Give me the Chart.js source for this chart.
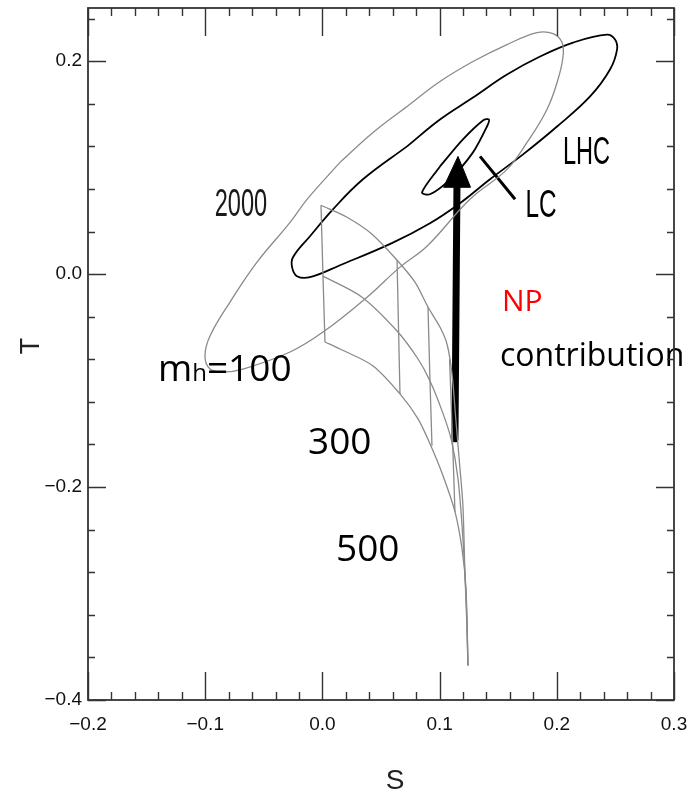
<!DOCTYPE html>
<html><head><meta charset="utf-8">
<script src="https://cdn.jsdelivr.net/npm/chart.js@4/dist/chart.umd.min.js"></script>
<style>html,body{margin:0;padding:0;background:#fff;}canvas{display:block;}</style>
</head><body>
<canvas id="c" width="689" height="793"></canvas>
<script>
// ---- tick values / labels ----
const xTickValues = [-0.2, -0.1, 0.0, 0.1, 0.2, 0.3];
const xTickLabels = ['\u22120.2', '\u22120.1', '0.0', '0.1', '0.2', '0.3'];
const yTickValues = [-0.4, -0.2, 0.0, 0.2];
const yTickLabels = ['\u22120.4', '\u22120.2', '0.0', '0.2'];
const xTitle = 'S';
const yTitle = 'T';

// ---- mh = 2000 ellipse (gray) ----
const ell2000S = [0.0150,0.0432,0.0722,0.1003,0.1285,0.1575,0.1831,0.1968,0.2045,0.2053,0.2010,0.1916,0.1746,0.1575,0.1259,0.0892,0.0662,0.0381,0.0005,-0.0276,-0.0677,-0.0848,-0.0959,-0.1002,-0.0959,-0.0788,-0.0558,-0.0276,-0.0131,0.0150];
const ell2000T = [0.1050,0.1331,0.1575,0.1809,0.1997,0.2156,0.2269,0.2259,0.2175,0.2044,0.1828,0.1547,0.1237,0.0984,0.0703,0.0262,0.0066,-0.0216,-0.0544,-0.0731,-0.0891,-0.0919,-0.0891,-0.0769,-0.0581,-0.0262,0.0112,0.0487,0.0703,0.1050];

// ---- LHC ellipse (black) ----
const lhcS = [0.0722,0.1003,0.1285,0.1575,0.1857,0.2139,0.2429,0.2497,0.2514,0.2454,0.2284,0.2002,0.1712,0.1430,0.1174,0.0918,0.0593,0.0150,-0.0106,-0.0217,-0.0259,-0.0251,-0.0106,0.0090,0.0346,0.0722];
const lhcT = [0.1200,0.1453,0.1659,0.1875,0.2044,0.2175,0.2250,0.2203,0.2109,0.1922,0.1669,0.1387,0.1125,0.0891,0.0666,0.0478,0.0291,0.0084,-0.0028,-0.0019,0.0066,0.0159,0.0356,0.0609,0.0891,0.1200];

// ---- LC ellipse (black) ----
const lcS = [0.1003,0.1199,0.1370,0.1421,0.1404,0.1285,0.1089,0.0918,0.0850,0.1003];
const lcT = [0.1012,0.1266,0.1444,0.1453,0.1387,0.1144,0.0891,0.0750,0.0769,0.1012];

// ---- SM grid arcs (gray) ----
const arcTopS = [-0.0012,0.0210,0.0423,0.0637,0.0790,0.0901,0.1003,0.1063,0.1106,0.1140,0.1174,0.1199,0.1216,0.1233,0.1242];
const arcTopT = [0.0647,0.0534,0.0375,0.0131,-0.0075,-0.0309,-0.0497,-0.0656,-0.0937,-0.1387,-0.1828,-0.2175,-0.2794,-0.3234,-0.3675];
const arcMidS = [0.0005,0.0338,0.0637,0.0816,0.0918,0.1021,0.1098,0.1157,0.1199,0.1225,0.1242];
const arcMidT = [-0.0019,-0.0216,-0.0534,-0.0797,-0.1003,-0.1284,-0.1547,-0.1922,-0.2484,-0.3047,-0.3675];
const arcBotS = [0.0022,0.0150,0.0432,0.0662,0.0816,0.0918,0.1029,0.1131,0.1191,0.1225,0.1242];
const arcBotT = [-0.0637,-0.0703,-0.0862,-0.1125,-0.1359,-0.1594,-0.1894,-0.2231,-0.2578,-0.2953,-0.3675];
// connecting lines
const v1S = [-0.0012,0.0005,0.0022];  const v1T = [0.0647,-0.0019,-0.0637];
const v2S = [0.0637,0.0650,0.0662];   const v2T = [0.0131,-0.0534,-0.1125];
const v3S = [0.0901,0.0918,0.0935];   const v3T = [-0.0309,-0.1003,-0.1612];
const v4S = [0.1085,0.1110,0.1131];   const v4T = [-0.0800,-0.1547,-0.2231];

// ---- NP arrow and LC pointer ----
const arrowShaftS = [0.1131, 0.1148];  const arrowShaftT = [-0.1547, 0.0816];
const arrowHeadS = [0.1034, 0.1157, 0.1264, 0.1034]; const arrowHeadT = [0.0816, 0.1106, 0.0816, 0.0816];
const lcPointerS = [0.1345, 0.1644];   const lcPointerT = [0.1106, 0.0703];

// ---- annotations (text) ----
const notes = [
  {parts:[{t:'2000', f:'38px "Liberation Sans"'}], s:-0.0695, v:0.0544, align:'center', sx:0.62, color:'#1a1a1a'},
  {parts:[{t:'LHC', f:'38px "Liberation Sans"'}], s:0.2253, v:0.1031, align:'center', sx:0.62, color:'#000'},
  {parts:[{t:'LC', f:'38px "Liberation Sans"'}], s:0.1865, v:0.0534, align:'center', sx:0.64, color:'#000'},
  {parts:[{t:'NP', f:'30px "Open Sans"'}], s:0.1532, v:-0.0347, align:'left', sx:1, color:'#ff0000'},
  {parts:[{t:'contribution', f:'32px "Open Sans"'}], s:0.1515, v:-0.0862, align:'left', sx:1, color:'#000'},
  {parts:[{t:'m', f:'37px "Open Sans"'},{t:'h', f:'24px "Open Sans"'},{t:'=100', f:'37px "Open Sans"'}], s:-0.1403, v:-0.1003, align:'left', sx:1, color:'#000'},
  {parts:[{t:'300', f:'37px "Open Sans"'}], s:-0.0123, v:-0.1687, align:'left', sx:1, color:'#000'},
  {parts:[{t:'500', f:'37px "Open Sans"'}], s:0.0116, v:-0.2691, align:'left', sx:1, color:'#000'}
];

const pts = (S, T) => S.map((s, i) => ({x: s, y: T[i]}));
const gray = {borderColor:'#8a8a8a', borderWidth:1.3, pointRadius:0, showLine:true, fill:false};
const blk = {borderColor:'#000', borderWidth:1.8, pointRadius:0, showLine:true, fill:false};

const datasets = [
  Object.assign({label:'mh=2000', data:pts(ell2000S, ell2000T), tension:0.4}, gray),
  Object.assign({label:'arc top', data:pts(arcTopS, arcTopT), tension:0.3}, gray),
  Object.assign({label:'arc mid', data:pts(arcMidS, arcMidT), tension:0.3}, gray),
  Object.assign({label:'arc bot', data:pts(arcBotS, arcBotT), tension:0.3}, gray),
  Object.assign({label:'v1', data:pts(v1S, v1T), tension:0}, gray),
  Object.assign({label:'v2', data:pts(v2S, v2T), tension:0}, gray),
  Object.assign({label:'v3', data:pts(v3S, v3T), tension:0}, gray),
  Object.assign({label:'v4', data:pts(v4S, v4T), tension:0}, gray),
  Object.assign({label:'LHC', data:pts(lhcS, lhcT), tension:0.4}, blk),
  Object.assign({label:'LC', data:pts(lcS, lcT), tension:0.3}, blk),
  {label:'LC pointer', data:pts(lcPointerS, lcPointerT), borderColor:'#000', borderWidth:3, pointRadius:0, showLine:true, tension:0},
  {label:'NP shaft', data:pts(arrowShaftS, arrowShaftT), borderColor:'#000', borderWidth:7, borderCapStyle:'round', pointRadius:0, showLine:true, tension:0},
  {label:'NP head', data:pts(arrowHeadS, arrowHeadT), borderColor:'#000', backgroundColor:'#000', borderWidth:1, pointRadius:0, showLine:true, tension:0, fill:'shape'}
];

const frameTicks = {
  id:'frameTicks',
  afterDraw(chart){
    const {ctx, chartArea:a, scales:{x, y}} = chart;
    ctx.save();
    ctx.strokeStyle = '#333';
    ctx.lineWidth = 1.8;
    ctx.strokeRect(a.left, a.top, a.right - a.left, a.bottom - a.top);
    ctx.lineWidth = 1.4;
    ctx.beginPath();
    for (let i = 0; i <= 25; i++) {
      const px = Math.round(x.getPixelForValue(-0.2 + i * 0.02)) + 0.5;
      const L = (i % 5 === 0) ? 28 : 8;
      ctx.moveTo(px, a.bottom); ctx.lineTo(px, a.bottom - L);
      ctx.moveTo(px, a.top); ctx.lineTo(px, a.top + L);
    }
    for (let i = 0; i <= 16; i++) {
      const py = Math.round(y.getPixelForValue(-0.4 + i * 0.04)) + 0.5;
      const L = (i % 5 === 0) ? 18 : 7;
      ctx.moveTo(a.left, py); ctx.lineTo(a.left + L, py);
      ctx.moveTo(a.right, py); ctx.lineTo(a.right - L, py);
    }
    ctx.stroke();
    // axis titles
    ctx.fillStyle = '#222';
    ctx.textAlign = 'center';
    ctx.textBaseline = 'middle';
    ctx.font = '28px "Liberation Sans"';
    ctx.fillText(xTitle, a.left + 307, a.bottom + 81);
    ctx.translate(32, a.top + 338);
    ctx.rotate(-Math.PI / 2);
    ctx.font = '27px "Liberation Sans"';
    ctx.fillText(yTitle, 0, 0);
    ctx.restore();
  }
};

const textNotes = {
  id:'textNotes',
  afterDatasetsDraw(chart){
    const {ctx, scales:{x, y}} = chart;
    ctx.save();
    ctx.textBaseline = 'alphabetic';
    notes.forEach(n => {
      const px = x.getPixelForValue(n.s), py = y.getPixelForValue(n.v);
      let total = 0;
      n.parts.forEach(p => { ctx.font = p.f; total += ctx.measureText(p.t).width; });
      ctx.save();
      ctx.translate(px, py);
      ctx.scale(n.sx, 1);
      let cx = n.align === 'center' ? -total / 2 : 0;
      ctx.fillStyle = n.color;
      ctx.textAlign = 'left';
      n.parts.forEach(p => { ctx.font = p.f; ctx.fillText(p.t, cx, 0); cx += ctx.measureText(p.t).width; });
      ctx.restore();
    });
    ctx.restore();
  }
};

new Chart(document.getElementById('c'), {
  type:'scatter',
  data:{datasets},
  options:{
    responsive:false, animation:false,
    layout:{padding:{left:0, right:15, top:8, bottom:0}},
    plugins:{legend:{display:false}, tooltip:{enabled:false}},
    scales:{
      x:{type:'linear', position:'bottom', min:-0.2, max:0.3,
        afterBuildTicks: s => { s.ticks = xTickValues.map(v => ({value:v})); },
        afterFit: s => { s.height = 93; s.paddingLeft = 0; s.paddingRight = 0; },
        grid:{display:false, drawTicks:false}, border:{display:false},
        ticks:{padding:13, color:'#111', autoSkip:false, maxRotation:0,
          font:{family:'Liberation Sans', size:19}, callback:(v, i) => xTickLabels[i]},
        title:{display:false}
      },
      y:{type:'linear', position:'left', min:-0.4, max:0.25,
        afterBuildTicks: s => { s.ticks = yTickValues.map(v => ({value:v})); },
        afterFit: s => { s.width = 88; s.paddingTop = 0; s.paddingBottom = 0; },
        grid:{display:false, drawTicks:false}, border:{display:false},
        ticks:{padding:6, color:'#111', autoSkip:false,
          font:{family:'Liberation Sans', size:19}, callback:(v, i) => yTickLabels[i]},
        title:{display:false}
      }
    }
  },
  plugins:[frameTicks, textNotes]
});
</script>
</body></html>
